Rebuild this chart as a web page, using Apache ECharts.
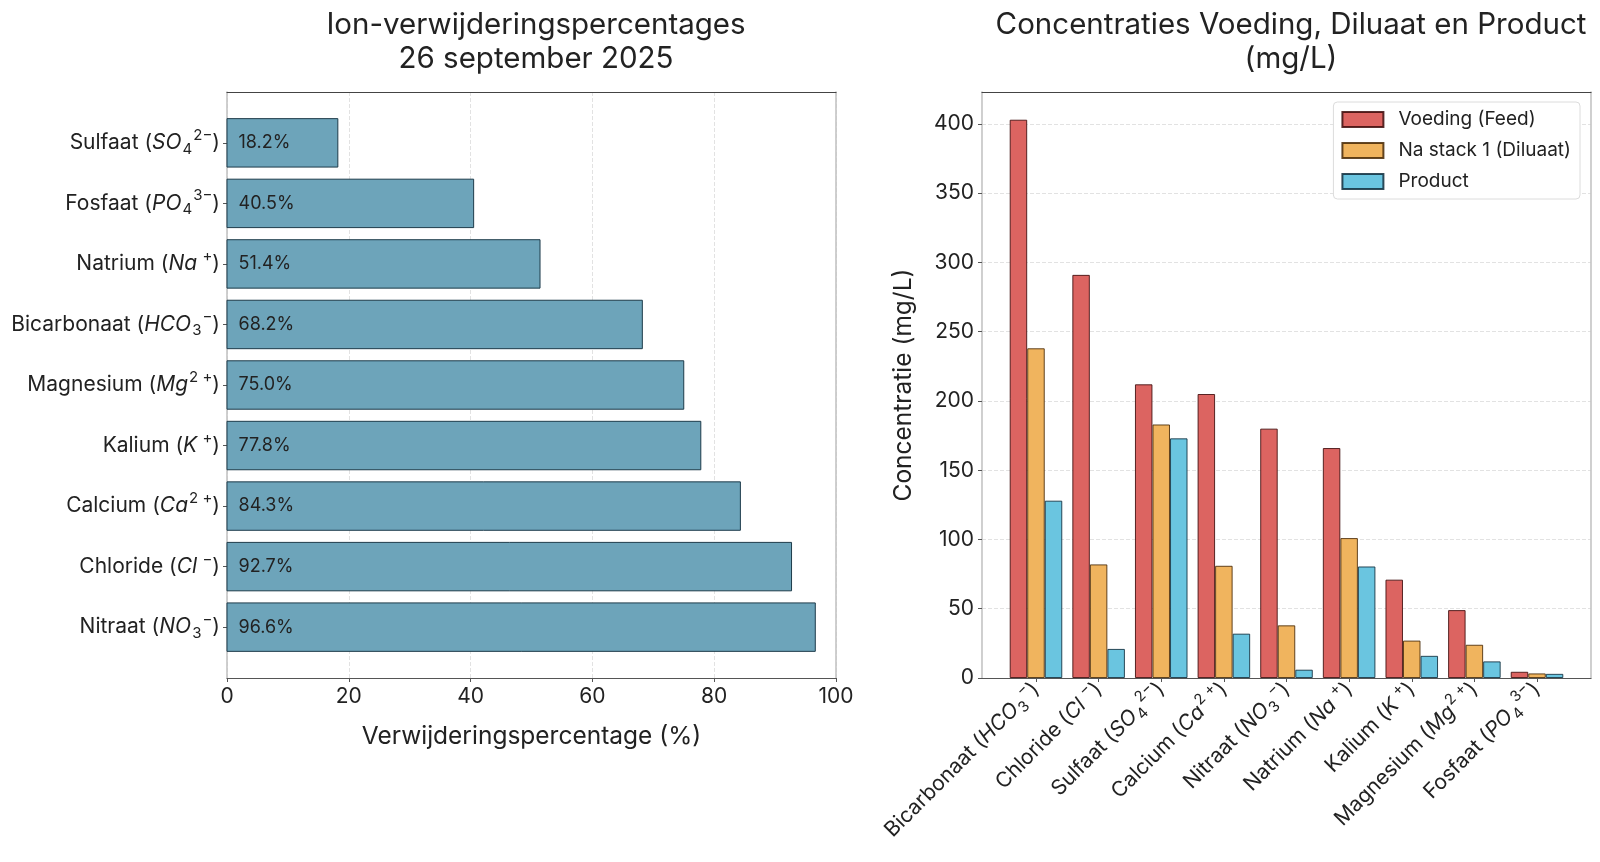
<!DOCTYPE html>
<html>
<head>
<meta charset="utf-8">
<title>Ion-verwijdering</title>
<script src="https://cdn.jsdelivr.net/npm/echarts@6/dist/echarts.min.js"></script>
<style>
  html, body { margin: 0; padding: 0; background: #fff; }
  #chart { width: 1600px; height: 862px; }
</style>
</head>
<body>
<div id="chart"></div>
<script>
// ---- data: removal percentages (index 0 = bottom bar) ----
const removalLabels = [
  "Nitraat ({i|NO}{sub|3}{sup|−})",
  "Chloride ({i|Cl}{sup| −})",
  "Calcium ({i|Ca}{sup|2 +})",
  "Kalium ({i|K}{sup| +})",
  "Magnesium ({i|Mg}{sup|2 +})",
  "Bicarbonaat ({i|HCO}{sub|3}{sup|−})",
  "Natrium ({i|Na}{sup| +})",
  "Fosfaat ({i|PO}{sub|4}{sup|3−})",
  "Sulfaat ({i|SO}{sub|4}{sup|2−})"
];
const removalPct = [96.6, 92.7, 84.3, 77.8, 75.0, 68.2, 51.4, 40.5, 18.2];

// ---- data: concentrations (mg/L) ----
const concLabels = [
  "Bicarbonaat ({i|HCO}{sub|3}{sup|−})",
  "Chloride ({i|Cl}{sup| −})",
  "Sulfaat ({i|SO}{sub|4}{sup|2−})",
  "Calcium ({i|Ca}{sup|2 +})",
  "Nitraat ({i|NO}{sub|3}{sup|−})",
  "Natrium ({i|Na}{sup| +})",
  "Kalium ({i|K}{sup| +})",
  "Magnesium ({i|Mg}{sup|2 +})",
  "Fosfaat ({i|PO}{sub|4}{sup|3−})"
];
const feed    = [403, 291, 212, 205, 180, 166, 71, 49, 4.5];
const diluaat = [238, 82, 183, 81, 38, 101, 27, 24, 3.3];
const product = [128, 21, 173, 32, 6, 80.5, 16, 12, 3.0];
const concTicks = [0, 50, 100, 150, 200, 250, 300, 350, 400];

const FONT = "Inter";
const TICK_FS = 21;
const BAR_W = 0.28; // grouped bar width in category units
const catIdx = removalPct.map((_, i) => i);

const rich = {
  i: { fontStyle: "italic", fontSize: TICK_FS, color: "#222", fontFamily: FONT },
  sub: { fontSize: 15, color: "#222", fontFamily: FONT, padding: [13, 0, 0, 1] },
  sup: { fontSize: 15, color: "#222", fontFamily: FONT, padding: [0, 0, 15, 1] }
};

const myChart = echarts.init(document.getElementById("chart"));

const frameTop = { show: true, onZero: false, lineStyle: { color: "#444", width: 1.2 } };
const frameSide = { show: true, onZero: false, lineStyle: { color: "#c4c4c4", width: 1.6 } };
const frameBottom = { show: true, onZero: false, lineStyle: { color: "#555", width: 1.2 } };

const option = {
  backgroundColor: "#fff",
  textStyle: { fontFamily: FONT },
  title: [
    {
      text: "Ion-verwijderingspercentages\n26 september 2025",
      left: 531, top: 3, textAlign: "center",
      textStyle: { fontSize: 29.5, fontWeight: "normal", color: "#222", lineHeight: 34, fontFamily: FONT }
    },
    {
      text: "Concentraties Voeding, Diluaat en Product\n(mg/L)",
      left: 1286, top: 3, textAlign: "center",
      textStyle: { fontSize: 29.5, fontWeight: "normal", color: "#222", lineHeight: 34, fontFamily: FONT }
    }
  ],
  legend: {
    data: ["Voeding (Feed)", "Na stack 1 (Diluaat)", "Product"],
    orient: "vertical",
    right: 20, top: 102,
    itemWidth: 41, itemHeight: 15, itemGap: 12,
    icon: "rect",
    backgroundColor: "#fff",
    borderColor: "#dcdcdc", borderWidth: 1, borderRadius: 4,
    padding: [8, 9, 8, 8],
    textStyle: { fontSize: 19, color: "#222", fontFamily: FONT, padding: [0, 0, 0, 10] }
  },
  grid: [
    { left: 227, top: 92, width: 609, height: 586 },
    { left: 982, top: 92, width: 609, height: 586 }
  ],
  xAxis: [
    {
      gridIndex: 0, type: "value", min: 0, max: 100, interval: 20,
      name: "Verwijderingspercentage (%)", nameLocation: "middle", nameGap: 46,
      nameTextStyle: { fontSize: 24.5, color: "#222", fontFamily: FONT },
      axisLine: frameBottom,
      axisTick: { show: true, length: 4, lineStyle: { color: "#555" } },
      axisLabel: { fontSize: TICK_FS, color: "#222", margin: 8, fontFamily: FONT },
      splitLine: { show: true, lineStyle: { color: "#e2e2e2", type: "dashed" } }
    },
    {
      gridIndex: 0, type: "value", min: 0, max: 100, position: "top",
      axisLine: frameTop,
      axisTick: { show: false }, axisLabel: { show: false }, splitLine: { show: false }
    },
    {
      gridIndex: 1, type: "value", min: -0.862, max: 8.862,
      axisLine: frameBottom,
      axisTick: { show: true, length: 4, customValues: catIdx, lineStyle: { color: "#555" } },
      axisLabel: {
        customValues: catIdx, rotate: 45, margin: 8,
        fontSize: TICK_FS, color: "#222", fontFamily: FONT,
        formatter: v => concLabels[Math.round(v)], rich: rich
      },
      splitLine: { show: false }
    },
    {
      gridIndex: 1, type: "value", min: -0.862, max: 8.862, position: "top",
      axisLine: frameTop,
      axisTick: { show: false }, axisLabel: { show: false }, splitLine: { show: false }
    }
  ],
  yAxis: [
    {
      gridIndex: 0, type: "value", min: -0.84, max: 8.84,
      axisLine: frameSide,
      axisTick: { show: true, length: 4, customValues: catIdx, lineStyle: { color: "#555" } },
      axisLabel: {
        customValues: catIdx, margin: 7,
        fontSize: TICK_FS, color: "#222", fontFamily: FONT,
        formatter: v => removalLabels[Math.round(v)], rich: rich
      },
      splitLine: { show: false }
    },
    {
      gridIndex: 0, type: "value", min: -0.84, max: 8.84, position: "right",
      axisLine: frameSide,
      axisTick: { show: false }, axisLabel: { show: false }, splitLine: { show: false }
    },
    {
      gridIndex: 1, type: "value", min: 0, max: 423, interval: 50,
      name: "Concentratie (mg/L)", nameLocation: "middle", nameGap: 66,
      nameTextStyle: { fontSize: 24.5, color: "#222", fontFamily: FONT },
      axisLine: frameSide,
      axisTick: { show: true, length: 4, customValues: concTicks, lineStyle: { color: "#555" } },
      axisLabel: { customValues: concTicks, fontSize: TICK_FS, color: "#222", margin: 8, fontFamily: FONT },
      splitLine: { show: true, lineStyle: { color: "#e2e2e2", type: "dashed" } }
    },
    {
      gridIndex: 1, type: "value", min: 0, max: 423, position: "right",
      axisLine: frameSide,
      axisTick: { show: false }, axisLabel: { show: false }, splitLine: { show: false }
    }
  ],
  series: [
    {
      // horizontal bars on a numeric y scale
      type: "custom",
      xAxisIndex: 0, yAxisIndex: 0,
      data: removalPct.map((v, i) => [v, i]),
      encode: { x: 0, y: 1 },
      renderItem: function (params, api) {
        const start = api.coord([0, api.value(1)]);
        const end = api.coord([api.value(0), api.value(1)]);
        const h = api.size([0, 0.8])[1];
        return {
          type: "rect",
          shape: { x: start[0], y: start[1] - h / 2, width: end[0] - start[0], height: h },
          style: { fill: "#6DA4BA", stroke: "#1d3b4a", lineWidth: 1 },
          textContent: {
            style: { text: api.value(0).toFixed(1) + "%", fontSize: 18, fill: "#222", fontFamily: FONT }
          },
          textConfig: { position: "insideLeft", distance: 12 }
        };
      }
    },
    {
      name: "Voeding (Feed)", type: "bar",
      xAxisIndex: 2, yAxisIndex: 2,
      data: feed.map((v, i) => [i - BAR_W, v]),
      barWidth: 17.5, barGap: "-100%",
      itemStyle: { color: "#DC6461", borderColor: "rgba(60,10,10,0.85)", borderWidth: 1 }
    },
    {
      name: "Na stack 1 (Diluaat)", type: "bar",
      xAxisIndex: 2, yAxisIndex: 2,
      data: diluaat.map((v, i) => [i, v]),
      barWidth: 17.5, barGap: "-100%",
      itemStyle: { color: "#F0B45E", borderColor: "rgba(70,40,5,0.85)", borderWidth: 1 }
    },
    {
      name: "Product", type: "bar",
      xAxisIndex: 2, yAxisIndex: 2,
      data: product.map((v, i) => [i + BAR_W, v]),
      barWidth: 17.5, barGap: "-100%",
      itemStyle: { color: "#6AC5E0", borderColor: "rgba(15,45,60,0.85)", borderWidth: 1 }
    }
  ]
};

myChart.setOption(option);
window.addEventListener("resize", () => myChart.resize(), false);
</script>
</body>
</html>
